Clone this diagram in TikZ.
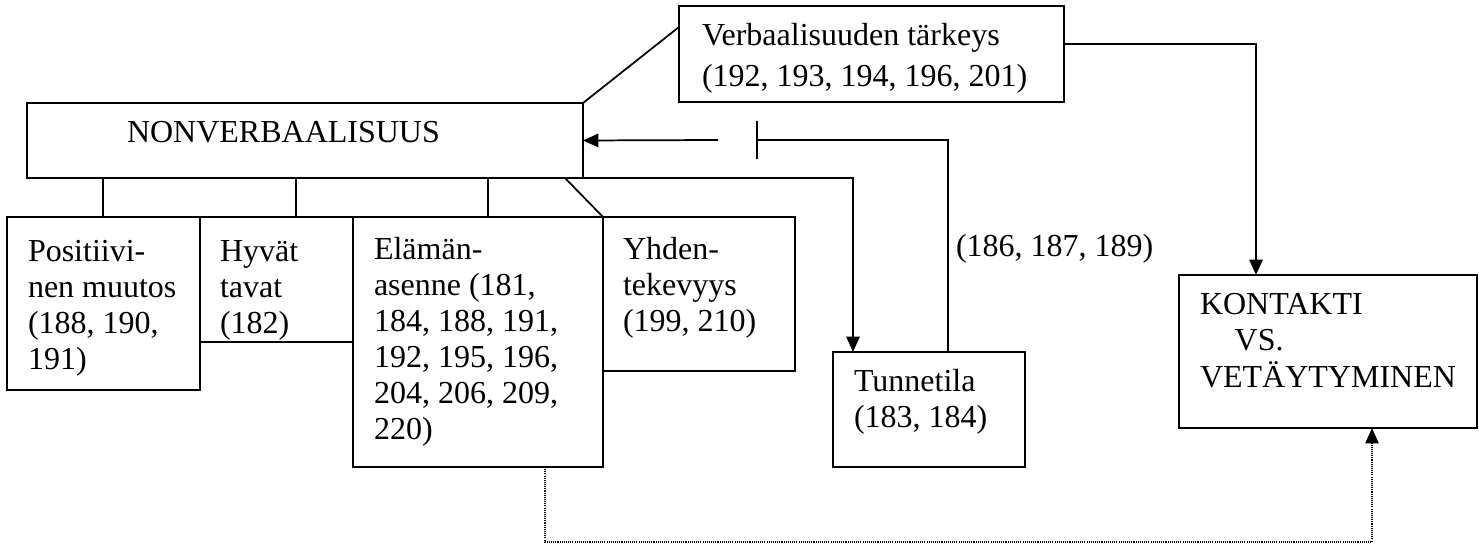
\documentclass[tikz,border=0pt]{standalone}
\usepackage{fontspec}
\setmainfont{Liberation Serif}
\usetikzlibrary{arrows.meta,fit,calc}
% left-aligned block of lines whose baseline is that of its first line
\newcommand\linestack[1]{\begin{tabular}[t]{@{}l@{}}#1\end{tabular}}
\begin{document}
\begin{tikzpicture}[x=0.75pt,y=-0.75pt,
  box/.style={draw, line width=1.7pt, inner sep=0pt, outer sep=0pt},
  txt/.style={inner sep=0pt, outer sep=0pt, anchor=base west,
              font=\fontsize{24pt}{27pt}\selectfont},
  conn/.style={line width=1.3pt},
  tip/.style={-{Triangle[length=11.5pt,width=10pt]}},
  arr/.style={conn, tip},
  dotline/.style={line width=1pt, dash pattern=on 0.8pt off 0.8pt, tip}]
\useasboundingbox (0,0) rectangle (1479,548);

% boxes
\node[box, fit={(27,103) (583,178)}]   (nonv) {};
\node[box, fit={(679,6) (1064,102)}]   (verb) {};
\node[box, fit={(7,217) (200,390)}]    (pos)  {};
\node[box, fit={(200,217) (353,342)}]  (hyv)  {};
\node[box, fit={(353,217) (603,467)}]  (ela)  {};
\node[box, fit={(603,217) (795,371)}]  (yhd)  {};
\node[box, fit={(833,352) (1025,467)}] (tun)  {};
\node[box, fit={(1179,275) (1477,428)}] (kon) {};

% texts
\node[txt] (nonvT) at (127,143) {NONVERBAALISUUS};
\node[txt] (verbT) at (702,46)
  {\linestack{Verbaalisuuden tärkeys\\[3.75pt](192, 193, 194, 196, 201)}};
\node[txt] (posT) at (28,262)
  {\linestack{Positiivi-\\nen muutos\\(188, 190,\\191)}};
\node[txt] (hyvT) at (220,262) {\linestack{Hyvät\\tavat\\(182)}};
\node[txt] (elaT) at (374,260)
  {\linestack{Elämän-\\asenne (181,\\184, 188, 191,\\192, 195, 196,\\204, 206, 209,\\220)}};
\node[txt] (yhdT) at (623,260) {\linestack{Yhden-\\tekevyys\\(199, 210)}};
\node[txt] (tunT) at (854,392) {\linestack{Tunnetila\\(183, 184)}};
\node[txt] (konT) at (1200,315)
  {\linestack{KONTAKTI\\\hspace*{26pt}VS.\\VETÄYTYMINEN}};
\node[txt] (fbT) at (956,257) {(186, 187, 189)};

% branch points
\coordinate (b1) at (103,0);
\coordinate (b2) at (296,0);
\coordinate (b3) at (488,0);
\coordinate (b4) at (565,0);
\coordinate (tb) at (853,178);
\coordinate (kx) at (1256,44);
\coordinate (fb) at (948,140);
\coordinate (blk) at (756,140);
\coordinate (gap) at (718,140);
\coordinate (dl) at (545,542);
\coordinate (dr) at (1372,542);

% tree below NONVERBAALISUUS
\draw[conn] (b1 |- nonv.south) -- (b1 |- pos.north);
\draw[conn] (b2 |- nonv.south) -- (b2 |- hyv.north);
\draw[conn] (b3 |- nonv.south) -- (b3 |- ela.north);
\draw[conn] (b4 |- nonv.south) -- (yhd.north west);

% links
\draw[conn] (nonv.north east) -- ($(verb.north west)+(0,21)$);
\draw[arr] (nonv.south east) -- (tb) -- (tb |- tun.north);
\draw[arr] (verb.east |- kx) -- (kx) -- (kx |- kon.north);
\draw[conn, -{Bar[width=29pt]}] (fb |- tun.north) -- (fb) -- (blk);
\draw[arr] (gap) -- (nonv.east);
\draw[dotline] (dl |- ela.south) -- (dl) -- (dr) -- (dr |- kon.south);
\end{tikzpicture}
\end{document}
